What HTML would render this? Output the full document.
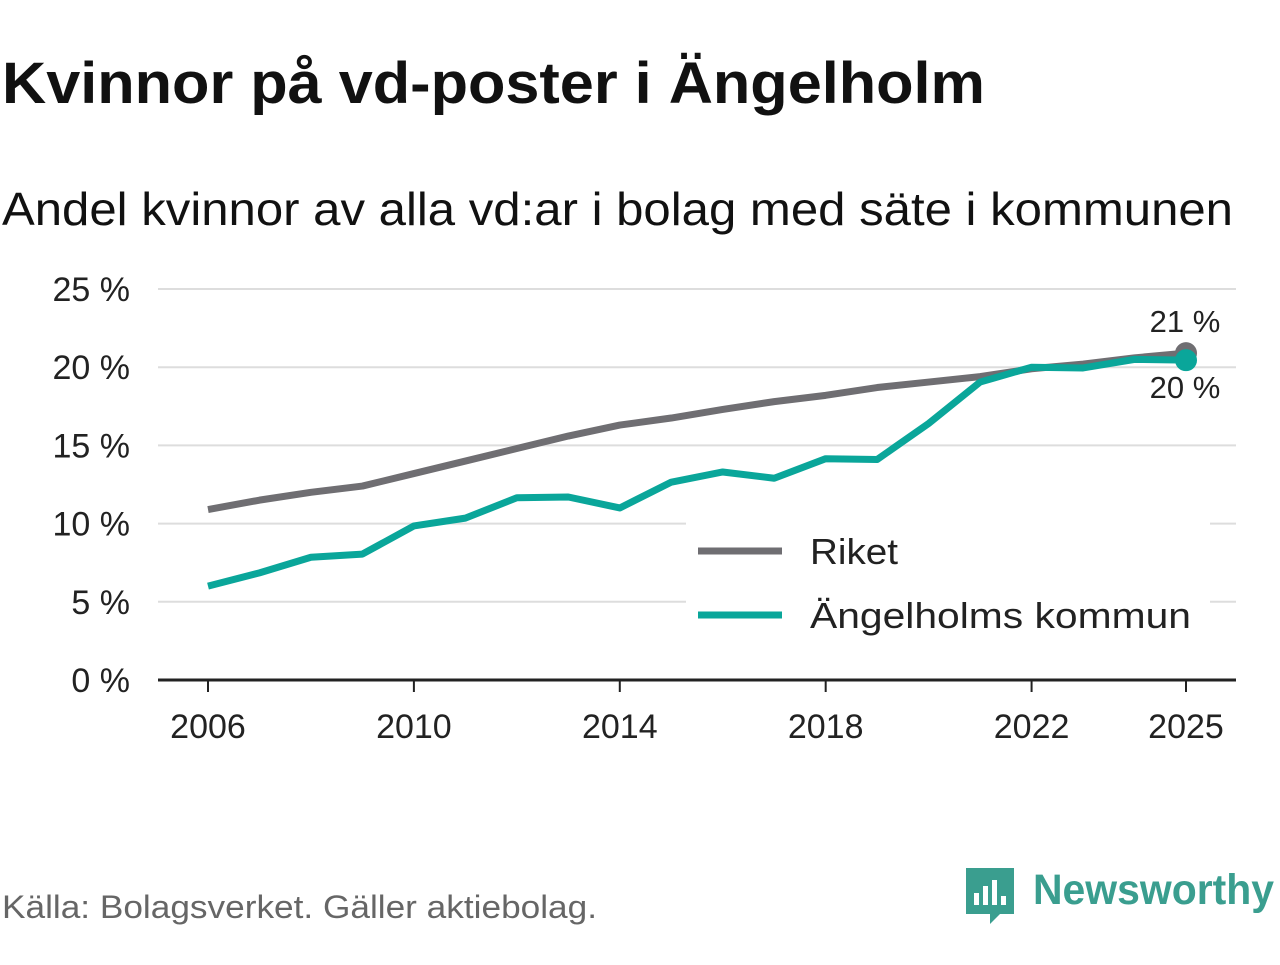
<!DOCTYPE html>
<html><head><meta charset="utf-8"><style>
body{margin:0;background:#fff;width:1280px;height:960px;overflow:hidden;font-family:"Liberation Sans","DejaVu Sans",sans-serif;}
</style></head><body>
<svg width="1280" height="960" viewBox="0 0 1280 960">
<text x="2" y="103" font-size="58" font-weight="bold" fill="#111" textLength="983" lengthAdjust="spacingAndGlyphs">Kvinnor på vd-poster i Ängelholm</text>
<text x="2" y="225" font-size="46" fill="#111" textLength="1231" lengthAdjust="spacingAndGlyphs">Andel kvinnor av alla vd:ar i bolag med säte i kommunen</text>
<g id="grid"></g>
<g id="yticks" font-size="34" fill="#222" text-anchor="end"></g>
<g id="xticks" font-size="34" fill="#222" text-anchor="middle"></g>
<line x1="158" x2="1236" y1="680" y2="680" stroke="#222" stroke-width="3"/>
<g id="series"></g>
<rect x="686" y="522" width="524" height="118" fill="#fff"/>
<g><line x1="698" x2="782" y1="551" y2="551" stroke="#6f6e72" stroke-width="7"/><text x="810" y="564" font-size="36" fill="#222" textLength="88" lengthAdjust="spacingAndGlyphs">Riket</text></g>
<g><line x1="698" x2="782" y1="615" y2="615" stroke="#0aa69a" stroke-width="7"/><text x="810" y="628" font-size="36" fill="#222" textLength="381" lengthAdjust="spacingAndGlyphs">Ängelholms kommun</text></g>
<text x="1185" y="332" font-size="31" fill="#222" text-anchor="middle">21 %</text>
<text x="1185" y="398" font-size="31" fill="#222" text-anchor="middle">20 %</text>
<text x="2" y="918" font-size="32" fill="#666" textLength="595" lengthAdjust="spacingAndGlyphs">Källa: Bolagsverket. Gäller aktiebolag.</text>
<g>
<path d="M966 868 h48 v46 h-14 l-10 10 l-0 -10 h-24 z" fill="#3a9e8f"/>
<rect x="974" y="893" width="5" height="12" fill="#fff"/><rect x="983" y="886" width="5" height="19" fill="#fff"/><rect x="992" y="880" width="5" height="25" fill="#fff"/><rect x="1001" y="896" width="5" height="9" fill="#fff"/>
<text x="1033" y="904" font-size="43" font-weight="bold" fill="#3a9e8f" textLength="241" lengthAdjust="spacingAndGlyphs">Newsworthy</text>
</g>
</svg>
<script>
const years=[2006,2007,2008,2009,2010,2011,2012,2013,2014,2015,2016,2017,2018,2019,2020,2021,2022,2023,2024,2025];
const riket=[10.9,11.5,12.0,12.4,13.2,14.0,14.8,15.6,16.3,16.75,17.3,17.8,18.2,18.7,19.05,19.4,19.9,20.2,20.6,20.9];
const angelholm=[6.0,6.85,7.85,8.05,9.85,10.35,11.65,11.7,11.0,12.65,13.3,12.9,14.15,14.1,16.4,19.05,20.0,19.95,20.5,20.45];
const yTicks=[0,5,10,15,20,25];
const xTicks=[2006,2010,2014,2018,2022,2025];
const NS="http://www.w3.org/2000/svg";
const x=v=>208+(v-2006)*(1186-208)/19;
const y=v=>680-v*(680-289)/25;
function mk(t,a,p){const e=document.createElementNS(NS,t);for(const k in a)e.setAttribute(k,a[k]);document.getElementById(p).appendChild(e);return e;}
yTicks.forEach(v=>{
 if(v>0){const l=mk('line',{x1:158,x2:1236,y1:y(v),y2:y(v),stroke:'#ddd','stroke-width':2},'grid');
 
 }
 const t=mk('text',{x:130,y:y(v)+12},'yticks');t.textContent=v+' %';
 
 
});
xTicks.forEach(v=>{
 const l=mk('line',{x1:x(v),x2:x(v),y1:680,y2:692,stroke:'#222','stroke-width':2},'xticks');
 
 
 const t=mk('text',{x:x(v),y:738},'xticks');t.textContent=v;
 
 
});
[[riket,'#6f6e72','riket'],[angelholm,'#0aa69a','angelholm']].forEach(([d,c,n])=>{
 const p=mk('polyline',{points:d.map((v,i)=>x(years[i])+','+y(v)).join(' '),fill:'none',stroke:c,'stroke-width':7,'stroke-linejoin':'round'},'series');
 
 
 const c2=mk('circle',{cx:x(years[years.length-1]),cy:y(d[d.length-1]),r:11,fill:c},'series');
 
 
});
</script>
</body></html>
